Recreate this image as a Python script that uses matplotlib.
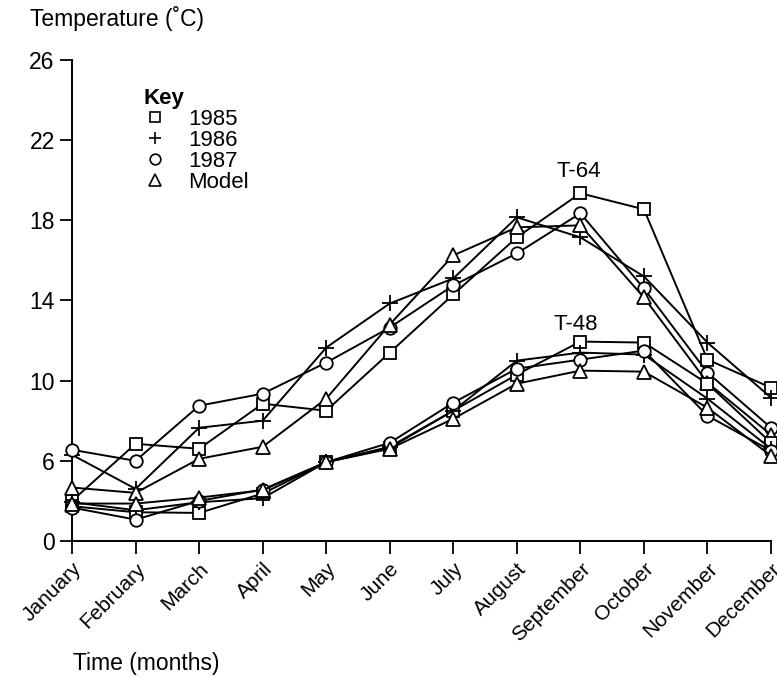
import numpy as np
import matplotlib
matplotlib.use('Agg')
import matplotlib.pyplot as plt
from matplotlib.lines import Line2D

plt.rcParams['font.family'] = ['Liberation Sans', 'DejaVu Sans']

months = ['January', 'February', 'March', 'April', 'May', 'June', 'July',
          'August', 'September', 'October', 'November', 'December']

# T-64 (upper group)
t64_1985 = [3.0, 6.85, 6.6, 8.85, 8.5, 11.4, 14.3, 17.15, 19.35, 18.55, 11.05, 9.65]
t64_1986 = [6.3, 3.9, 7.65, 8.0, 11.65, 13.85, 15.1, 18.15, 17.15, 15.2, 11.9, 9.15]
t64_1987 = [6.55, 6.0, 8.75, 9.35, 10.9, 12.65, 14.75, 16.35, 18.35, 14.6, 10.4, 7.65]
t64_model = [4.0, 3.6, 6.1, 6.7, 9.1, 12.8, 16.25, 17.65, 17.75, 14.15, 9.9, 7.3]

# T-48 (lower group)
t48_1985 = [2.6, 2.15, 2.1, 3.55, 5.9, 6.65, 8.5, 10.3, 11.95, 11.9, 9.85, 6.9]
t48_1986 = [2.9, 2.3, 2.9, 3.2, 5.9, 6.7, 8.5, 11.0, 11.4, 11.3, 9.1, 6.6]
t48_1987 = [2.5, 1.6, 3.0, 3.85, 5.9, 6.9, 8.9, 10.6, 11.05, 11.5, 8.25, 6.5]
t48_model = [2.8, 2.8, 3.25, 3.8, 5.9, 6.6, 8.1, 9.85, 10.5, 10.45, 8.65, 6.25]

yticks = [0, 6, 10, 14, 18, 22, 26]


# the axis is compressed below 6 (0-6 takes the same room as 4 units above)
def fwd(y):
    y = np.asarray(y, dtype=float)
    return np.where(y < 6, y * 4.0 / 6.0, y - 2.0)


def inv(t):
    t = np.asarray(t, dtype=float)
    return np.where(t < 4, t * 6.0 / 4.0, t + 2.0)


fig = plt.figure(figsize=(7.77, 6.78), dpi=100)
ax = fig.add_axes([0.0927, 0.2021, 0.8996, 0.7094])
ax.set_yscale('function', functions=(fwd, inv))

x = np.arange(len(months))
styles = [('s', 'white', 9), ('+', 'black', 11), ('o', 'white', 9), ('^', 'white', 10)]
for group in [(t64_1985, t64_1986, t64_1987, t64_model),
              (t48_1985, t48_1986, t48_1987, t48_model)]:
    for vals, (m, fc, ms) in zip(group, styles):
        ax.plot(x, vals, color='black', lw=1.4, marker=m, mfc=fc, mec='black',
                ms=ms, mew=1.3, clip_on=False, zorder=3)

ax.set_xlim(0, 11)
ax.set_ylim(0, 26)
ax.set_yticks(yticks)
ax.set_yticklabels([str(v) for v in yticks])
ax.set_xticks(x)
ax.set_xticklabels(months, rotation=45, ha='right', rotation_mode='anchor')
ax.tick_params(axis='both', direction='out', length=9, width=1.3, labelsize=16.5, colors='black')
ax.tick_params(axis='x', pad=4, labelsize=15)
ax.spines['top'].set_visible(False)
ax.spines['right'].set_visible(False)
ax.spines['left'].set_linewidth(1.4)
ax.spines['bottom'].set_linewidth(1.4)

ax.text(7.98, 19.9, 'T-64', fontsize=16, ha='center', va='bottom')
ax.text(7.93, 12.3, 'T-48', fontsize=16, ha='center', va='bottom')

fig.text(0.038, 0.972, 'Temperature (˚C)', fontsize=16.5, ha='left', va='center')
fig.text(0.094, 0.022, 'Time (months)', fontsize=16.5, ha='left', va='center')

handles = [Line2D([0], [0], marker=m, color='none', mfc=fc, mec='black', ms=ms * 0.85, mew=1.2)
           for (m, fc, ms) in styles]
leg = ax.legend(handles, ['1985', '1986', '1987', 'Model'], title='Key',
                loc='upper left', bbox_to_anchor=(0.08, 0.975), frameon=False,
                fontsize=16, handlelength=1.0, handletextpad=1.0, labelspacing=0.0,
                borderpad=0.2, alignment='left')
leg.get_title().set_fontweight('bold')
leg.get_title().set_fontsize(16)

fig.savefig('out.png', dpi=100)
